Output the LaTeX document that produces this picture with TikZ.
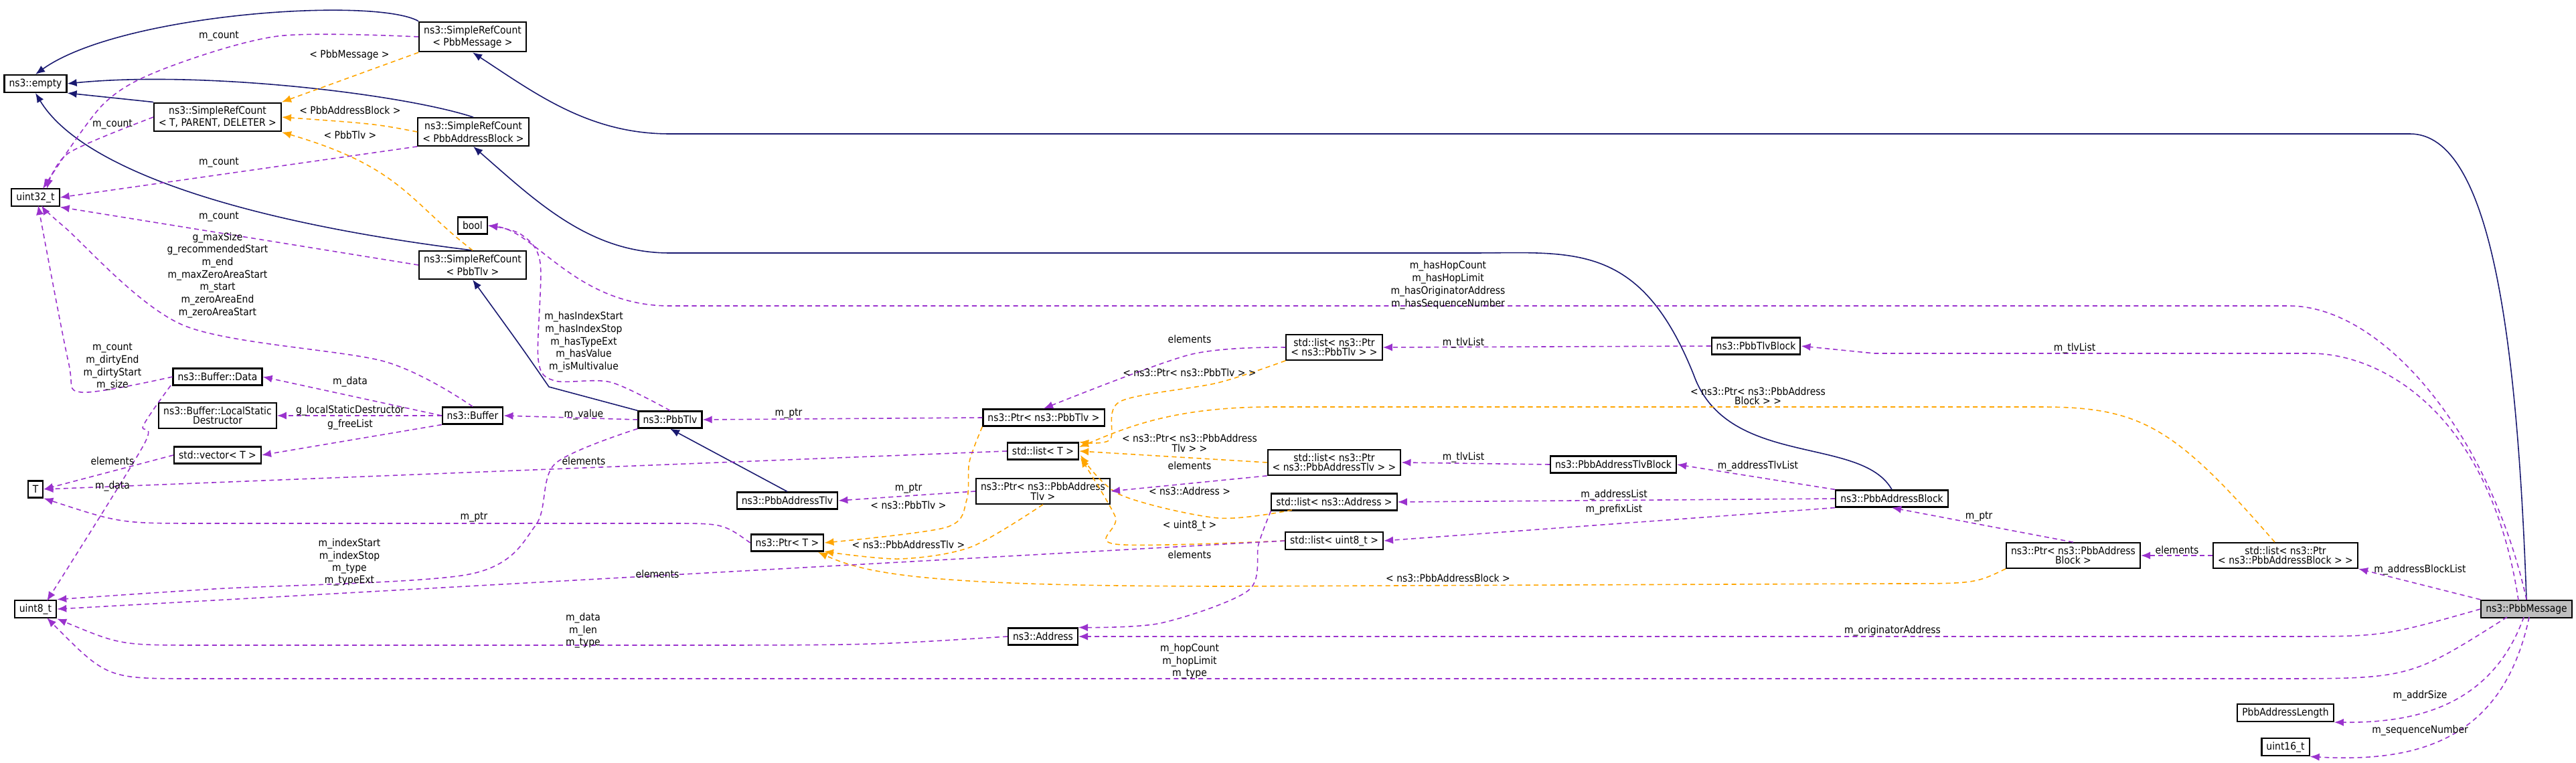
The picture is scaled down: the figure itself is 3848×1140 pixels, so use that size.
\documentclass[tikz,border=0pt]{standalone}
\usepackage{fontspec}
\setmainfont{DejaVu Sans Condensed}
\usetikzlibrary{arrows.meta}
\definecolor{pur}{HTML}{9A32CD}
\definecolor{nav}{HTML}{191970}
\definecolor{orn}{HTML}{FFA500}
\begin{document}
\begin{tikzpicture}[x=0.01cm,y=-0.01cm,
  every node/.style={font=\fontsize{4.4}{4.1}\selectfont},
  box/.style={draw=black,line width=0.6pt,fill=white,align=center,inner xsep=2pt,inner ysep=1.6pt,minimum height=0.25cm},
  lab/.style={align=center,inner sep=0pt},
  inh/.style={draw=nav,line width=0.45pt,-{Latex[length=4pt,width=3.2pt]}},
  use/.style={draw=pur,line width=0.45pt,dash pattern=on 2pt off 1.5pt,-{Latex[length=4pt,width=3.2pt]}},
  tpl/.style={draw=orn,line width=0.45pt,dash pattern=on 2pt off 1.5pt,-{Latex[length=4pt,width=3.2pt]}}]
\useasboundingbox (0,0) rectangle (3848,1140);
% nodes
\node[box] (empty) at (53,125) {ns3::empty};
\node[box] (u32) at (53,295) {uint32\_t};
\node[box] (T) at (53,731) {T};
\node[box] (u8) at (53,910) {uint8\_t};
\node[box] (srcT) at (325,175) {ns3::SimpleRefCount\\< T, PARENT, DELETER >};
\node[box] (bdata) at (325,563) {ns3::Buffer::Data};
\node[box] (blsd) at (325,621) {ns3::Buffer::LocalStatic\\Destructor};
\node[box] (vec) at (325,680) {std::vector< T >};
\node[box] (srcM) at (706,55) {ns3::SimpleRefCount\\< PbbMessage >};
\node[box] (srcAB) at (707,197) {ns3::SimpleRefCount\\< PbbAddressBlock >};
\node[box] (bool) at (706,337) {bool};
\node[box] (srcTlv) at (706,396) {ns3::SimpleRefCount\\< PbbTlv >};
\node[box] (buf) at (706,621) {ns3::Buffer};
\node[box] (tlv) at (1001,627) {ns3::PbbTlv};
\node[box] (atlv) at (1176,748) {ns3::PbbAddressTlv};
\node[box] (ptrT) at (1176,811) {ns3::Ptr< T >};
\node[box] (ptlv) at (1559,624) {ns3::Ptr< ns3::PbbTlv >};
\node[box] (listT) at (1558,674) {std::list< T >};
\node[box] (patlv) at (1558,734) {ns3::Ptr< ns3::PbbAddress\\Tlv >};
\node[box] (addr) at (1558,951) {ns3::Address};
\node[box] (lptlv) at (1993,519) {std::list< ns3::Ptr\\< ns3::PbbTlv > >};
\node[box] (lpatlv) at (1993,691) {std::list< ns3::Ptr\\< ns3::PbbAddressTlv > >};
\node[box] (laddr) at (1993,750) {std::list< ns3::Address >};
\node[box] (lu8) at (1993,808) {std::list< uint8\_t >};
\node[box] (tlvb) at (2623,517) {ns3::PbbTlvBlock};
\node[box] (atlvb) at (2410,694) {ns3::PbbAddressTlvBlock};
\node[box] (ab) at (2826,745) {ns3::PbbAddressBlock};
\node[box] (pab) at (3097,830) {ns3::Ptr< ns3::PbbAddress\\Block >};
\node[box] (lpab) at (3414,830) {std::list< ns3::Ptr\\< ns3::PbbAddressBlock > >};
\node[box,fill={rgb,255:red,191;green,191;blue,191}] (msg) at (3774,910) {ns3::PbbMessage};
\node[box] (alen) at (3414,1065) {PbbAddressLength};
\node[box] (u16) at (3414,1116) {uint16\_t};
% inheritance
\draw[inh] (srcM.north west) .. controls (560,-5) and (180,20) .. (empty.north);
\draw[inh] (srcAB.north) .. controls (600,140) and (300,105) .. (empty.east);
\draw[inh] (srcT.north west) -- (empty.south east);
\draw[inh] (srcTlv.north) .. controls (350,330) and (120,250) .. (empty.south);
\draw[inh] (msg.north) .. controls (3760,500) and (3720,200) .. (3600,200) -- (1000,200) .. controls (880,200) and (800,140) .. (srcM.south);
\draw[inh] (ab.north) .. controls (2780,650) and (2580,700) .. (2530,560) .. controls (2450,360) and (2350,378) .. (2200,378) -- (1000,378) .. controls (880,378) and (800,300) .. (srcAB.south);
\draw[inh] (tlv.north west) -- (820,578) .. controls (780,520) .. (srcTlv.south);
\draw[inh] (atlv.north) -- (tlv.south);
% templates
\draw[tpl] (srcM.south west) -- (srcT.north east);
\draw[tpl] (srcAB.west) .. controls (560,185) .. (srcT.east);
\draw[tpl] (srcTlv.north) .. controls (610,300) and (600,250) .. (srcT.south east);
\draw[tpl] plot[smooth] coordinates {(lptlv.south west) (1819,572) (1673,600) (1658,657) (listT.north east)};
\draw[tpl] (lpatlv.west) -- (listT.east);
\draw[tpl] plot[smooth] coordinates {(1930,762) (1819,774) (1673,739) (1614,680)};
\draw[tpl] plot[smooth] coordinates {(lu8.west) (1666,813) (1666,772) (1614,684)};
\draw[tpl] (3398,810) .. controls (3250,640) and (3200,608) .. (3050,608) -- (1900,608) .. controls (1750,608) and (1680,640) .. (1612,668);
\draw[tpl] plot[smooth] coordinates {(ptlv.south west) (1448,690) (1444,747) (1413,788) (ptrT.east)};
\draw[tpl] plot[smooth] coordinates {(patlv.south) (1451,817) (1344,835) (1231,824)};
\draw[tpl] (pab.south west) .. controls (2950,872) .. (2831,872) -- (1842,876) .. controls (1400,876) and (1300,860) .. (1222,825);
% usage
\draw[use] plot[smooth] coordinates {(srcM.west) (415,54) (242,104) (153,157) (64,282)};
\draw[use] plot[smooth] coordinates {(srcT.west) (102,229) (70,282)};
\draw[use] (srcAB.south west) -- (u32.east);
\draw[use] (srcTlv.west) -- (u32.south east);
\draw[use] plot[smooth] coordinates {(buf.north) (574,540) (274,486) (96,339) (62,307)};
\draw[use] plot[smooth] coordinates {(bdata.west) (121,586) (102,540) (57,307)};
\draw[use] plot[smooth] coordinates {(255,576) (214,636) (214,666) (70,898)};
\draw[use] (buf.west) -- (bdata.east);
\draw[use] (buf.west) -- (blsd.east);
\draw[use] (buf.south west) -- (vec.east);
\draw[use] (vec.west) -- (T.east);
\draw[use] (listT.west) -- (T.east);
\draw[use] (ptrT.west) .. controls (1080,782) .. (1000,782) -- (300,782) .. controls (180,782) .. (T.south east);
\draw[use] (tlv.west) -- (buf.east);
\draw[use] plot[smooth] coordinates {(tlv.north) (912,571) (829,569) (804,537) (807,393) (778,350) (bool.east)};
\draw[use] plot[smooth] coordinates {(tlv.south west) (829,693) (800,785) (701,858) (319,880) (u8.north east)};
\draw[use] (lu8.west) -- (u8.east);
\draw[use] (addr.west) .. controls (1300,964) .. (1000,964) -- (300,964) .. controls (180,964) .. (u8.south east);
\draw[use] (3745,922) .. controls (3600,1014) .. (3400,1014) -- (287,1014) .. controls (160,1014) .. (70,923);
\draw[use] (msg.north) .. controls (3720,650) and (3560,457) .. (3419,457) -- (1000,457) .. controls (860,457) and (800,345) .. (bool.east);
\draw[use] (3762,897) .. controls (3720,620) and (3560,528) .. (3451,528) -- (2800,528) -- (tlvb.east);
\draw[use] (msg.north west) -- (lpab.south east);
\draw[use] (msg.west) .. controls (3560,951) .. (3419,951) -- (addr.east);
\draw[use] (3770,922) .. controls (3720,1060) and (3600,1080) .. (alen.south east);
\draw[use] (3778,922) .. controls (3740,1100) and (3620,1140) .. (u16.south east);
\draw[use] (lpab.west) -- (pab.east);
\draw[use] (pab.north) -- (ab.south);
\draw[use] (ab.north west) -- (atlvb.east);
\draw[use] (ab.west) -- (laddr.east);
\draw[use] (ab.south west) -- (lu8.east);
\draw[use] (tlvb.west) -- (lptlv.east);
\draw[use] (atlvb.west) -- (lpatlv.east);
\draw[use] plot[smooth] coordinates {(lptlv.west) (1777,530) (ptlv.north)};
\draw[use] (lpatlv.south west) -- (patlv.east);
\draw[use] (ptlv.west) -- (tlv.east);
\draw[use] (patlv.west) -- (atlv.east);
\draw[use] plot[smooth] coordinates {(laddr.south west) (1880,813) (1865,882) (1734,931) (addr.north east)};
% labels
\node[lab] (l1) at (327,54) {m\_count};
\node[lab] (l2) at (522,82) {< PbbMessage >};
\node[lab] (l3) at (523,165) {< PbbAddressBlock >};
\node[lab] (l4) at (523,202) {< PbbTlv >};
\node[lab] (l5) at (168,186) {m\_count};
\node[lab] (l6) at (327,243) {m\_count};
\node[lab] (l7) at (327,324) {m\_count};
\node[lab] (l8) at (325,411) {g\_maxSize\\g\_recommendedStart\\m\_end\\m\_maxZeroAreaStart\\m\_start\\m\_zeroAreaEnd\\m\_zeroAreaStart};
\node[lab] (l9) at (872,511) {m\_hasIndexStart\\m\_hasIndexStop\\m\_hasTypeExt\\m\_hasValue\\m\_isMultivalue};
\node[lab] (l10) at (168,548) {m\_count\\m\_dirtyEnd\\m\_dirtyStart\\m\_size};
\node[lab] (l11) at (523,570) {m\_data};
\node[lab] (l12) at (523,613) {g\_localStaticDestructor};
\node[lab] (l13) at (523,634) {g\_freeList};
\node[lab] (l14) at (168,689) {elements};
\node[lab] (l15) at (168,726) {m\_data};
\node[lab] (l16) at (708,773) {m\_ptr};
\node[lab] (l17) at (522,840) {m\_indexStart\\m\_indexStop\\m\_type\\m\_typeExt};
\node[lab] (l18) at (871,942) {m\_data\\m\_len\\m\_type};
\node[lab] (l19) at (872,619) {m\_value};
\node[lab] (l20) at (872,689) {elements};
\node[lab] (l21) at (982,858) {elements};
\node[lab] (l22) at (1777,507) {elements};
\node[lab] (l23) at (1777,557) {< ns3::Ptr< ns3::PbbTlv > >};
\node[lab] (l24) at (1178,618) {m\_ptr};
\node[lab] (l25) at (1777,662) {< ns3::Ptr< ns3::PbbAddress\\Tlv > >};
\node[lab] (l26) at (1777,696) {elements};
\node[lab] (l27) at (1777,734) {< ns3::Address >};
\node[lab] (l28) at (1357,730) {m\_ptr};
\node[lab] (l29) at (1357,755) {< ns3::PbbTlv >};
\node[lab] (l30) at (1777,785) {< uint8\_t >};
\node[lab] (l31) at (1357,814) {< ns3::PbbAddressTlv >};
\node[lab] (l32) at (1777,829) {elements};
\node[lab] (l33) at (1777,988) {m\_hopCount\\m\_hopLimit\\m\_type};
\node[lab] (l34) at (2163,426) {m\_hasHopCount\\m\_hasHopLimit\\m\_hasOriginatorAddress\\m\_hasSequenceNumber};
\node[lab] (l35) at (3099,520) {m\_tlvList};
\node[lab] (l36) at (2186,512) {m\_tlvList};
\node[lab] (l37) at (2186,683) {m\_tlvList};
\node[lab] (l38) at (2626,592) {< ns3::Ptr< ns3::PbbAddress\\Block > >};
\node[lab] (l39) at (2626,696) {m\_addressTlvList};
\node[lab] (l40) at (2411,739) {m\_addressList};
\node[lab] (l41) at (2411,761) {m\_prefixList};
\node[lab] (l42) at (2956,772) {m\_ptr};
\node[lab] (l43) at (3252,822) {elements};
\node[lab] (l44) at (3615,851) {m\_addressBlockList};
\node[lab] (l45) at (2163,864) {< ns3::PbbAddressBlock >};
\node[lab] (l46) at (2827,942) {m\_originatorAddress};
\node[lab] (l47) at (3615,1039) {m\_addrSize};
\node[lab] (l48) at (3615,1091) {m\_sequenceNumber};
\end{tikzpicture}
\end{document}
